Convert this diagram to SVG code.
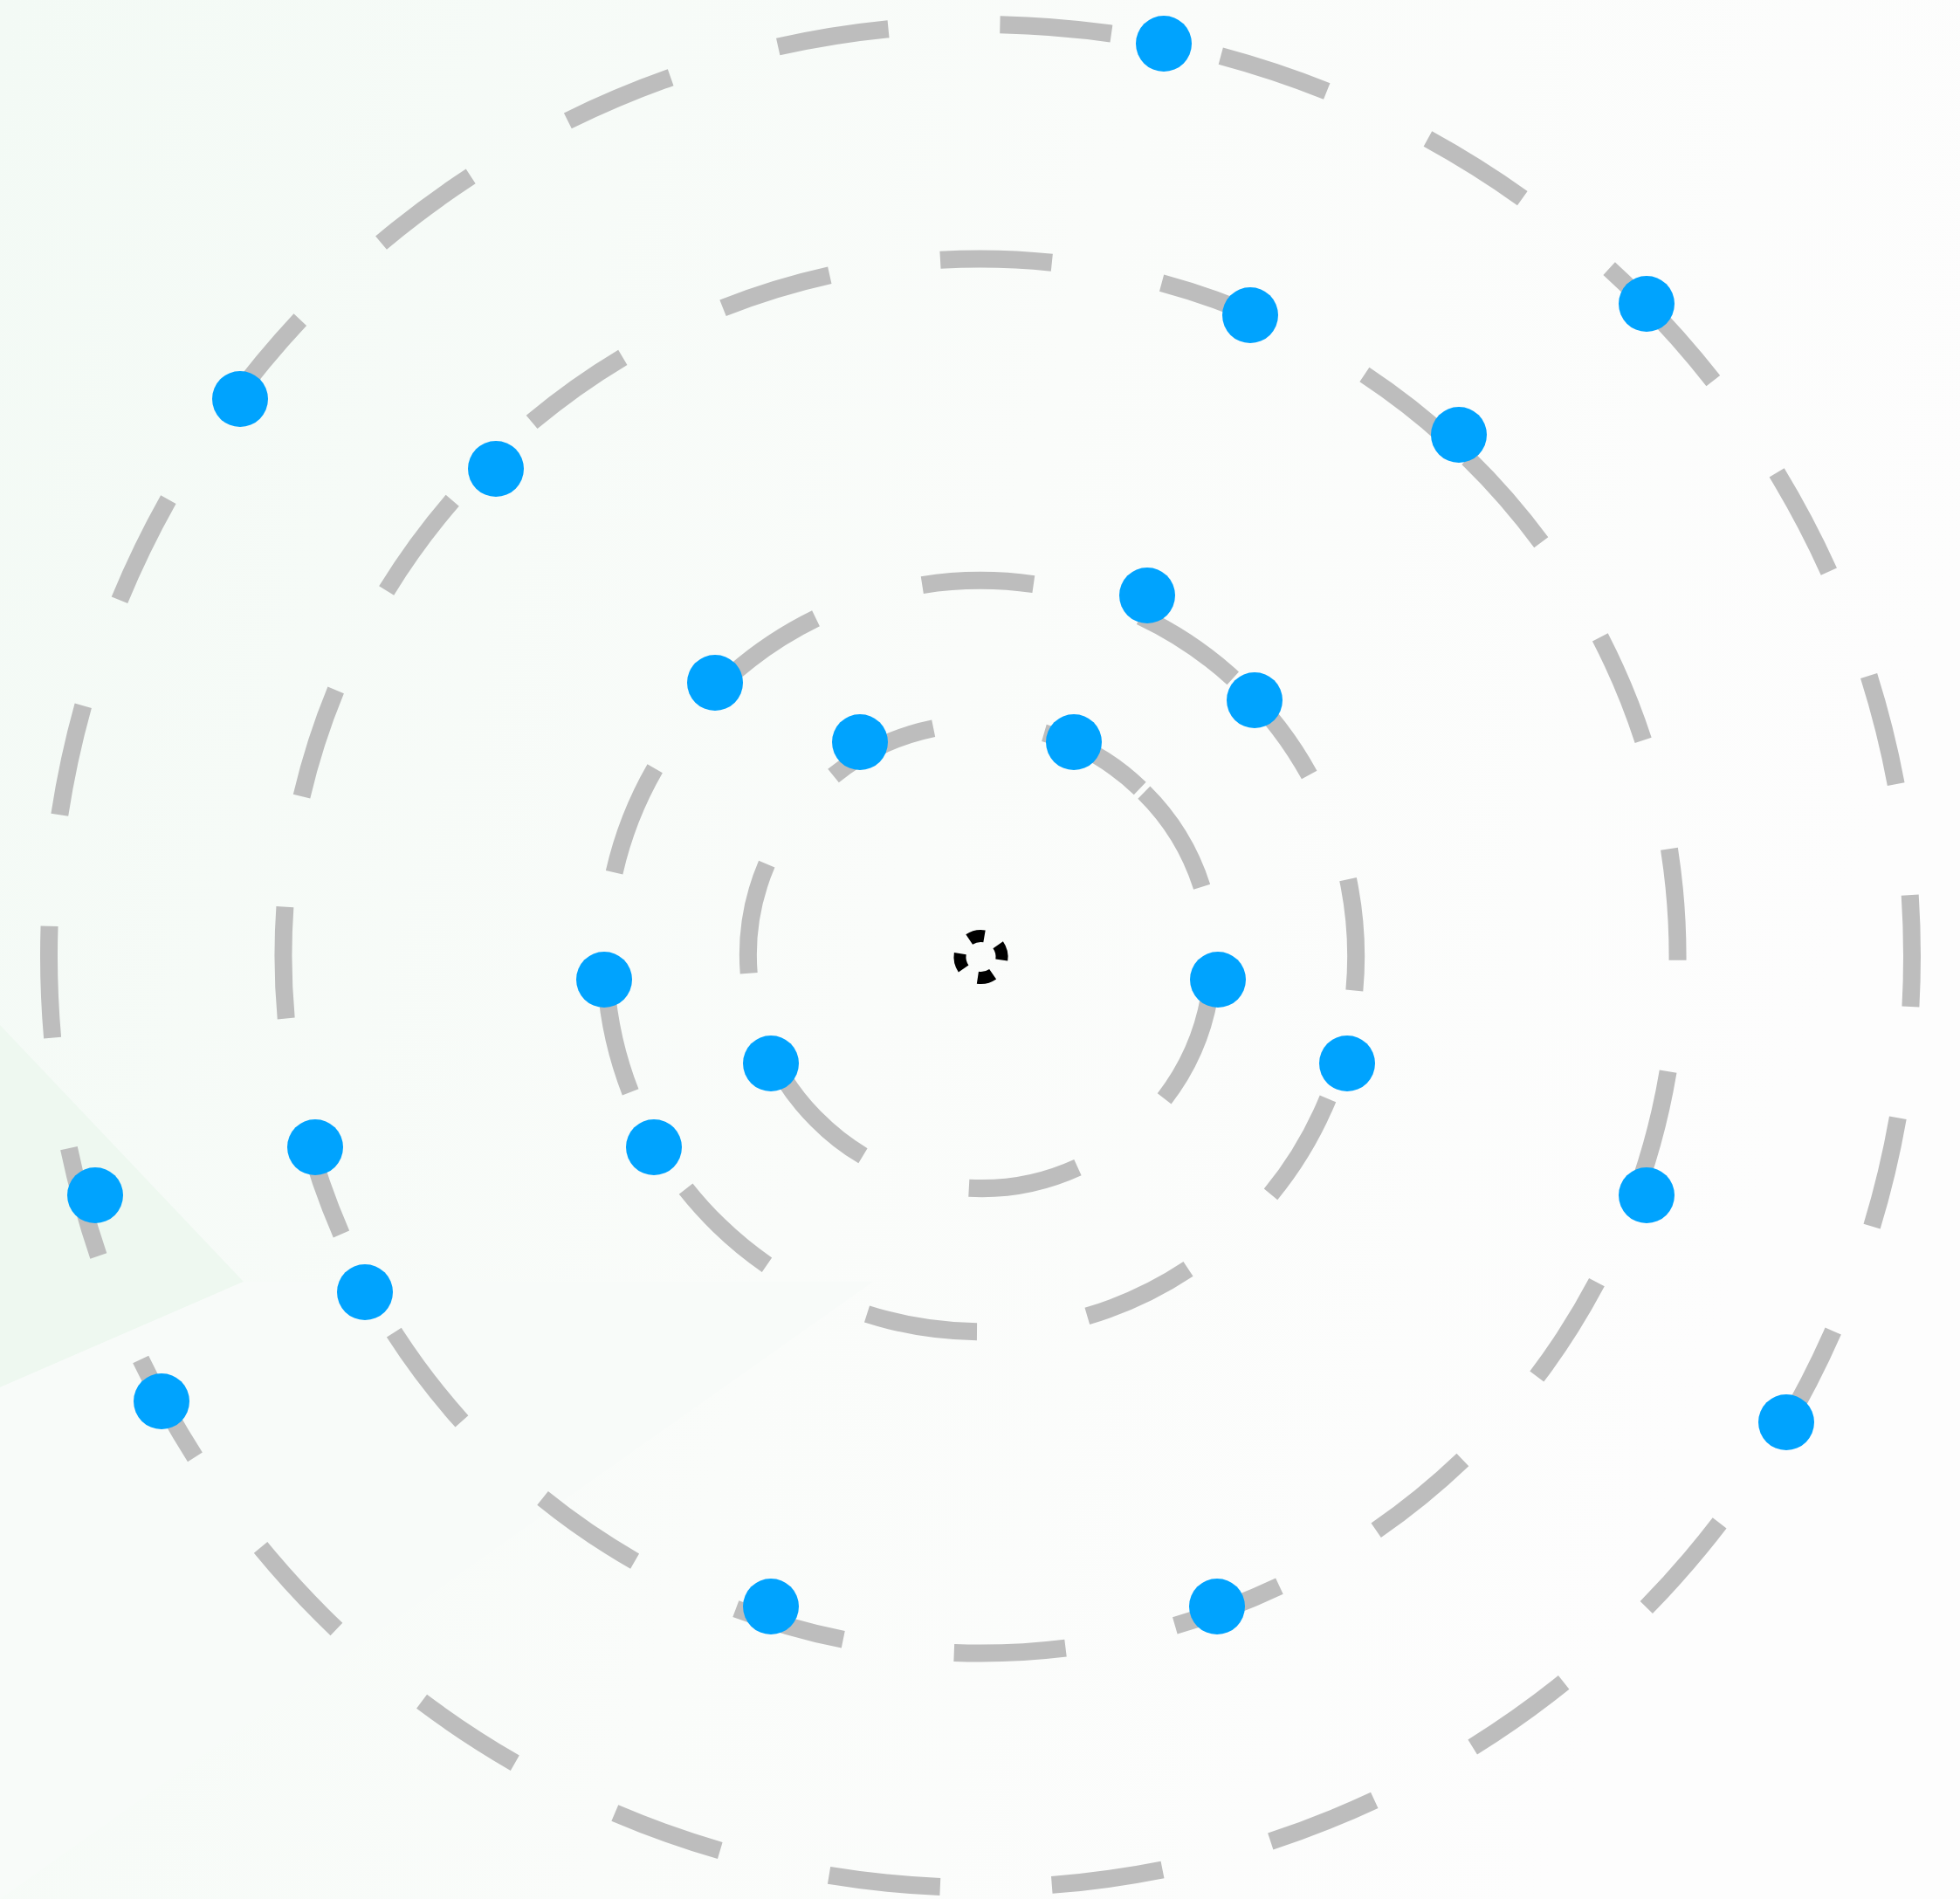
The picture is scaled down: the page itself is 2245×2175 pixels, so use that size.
<svg xmlns="http://www.w3.org/2000/svg" width="2245" height="2175" viewBox="0 0 2245 2175">
<defs>
<linearGradient id="bg" x1="0" y1="0" x2="1" y2="0.3">
<stop offset="0" stop-color="#f3faf5"/>
<stop offset="0.55" stop-color="#fafcfa"/>
<stop offset="1" stop-color="#fdfdfd"/>
</linearGradient>
<style>
.orbit{fill:none;stroke:#bdbdbd;stroke-width:20;stroke-dasharray:128 128;}
.core{fill:none;stroke:#000000;stroke-width:14;stroke-dasharray:18 19.7;}
.dot{fill:#00a3fe;}
</style>
</defs>
<rect width="2245" height="2175" fill="url(#bg)"/>
<polygon points="0,1174 279,1468 0,1589" fill="#eef8f0"/>
<polygon points="279,1468 1000,1468 0,2175 0,1589" fill="#f8fbf9"/>
<g id="connectors">
<path id="orbit5" class="orbit" d="M1877.49,340.51 A1067,1067 0 1 1 368.51,1849.49 A1067,1067 0 1 1 1877.49,340.51"/>
<path id="orbit4" class="orbit" d="M1681.33,524.85 A798,798 0 1 1 564.67,1665.15 A798,798 0 1 1 1681.33,524.85"/>
<path id="orbit3" class="orbit" d="M1422.24,786.20 A430,430 0 1 1 823.76,1403.80 A430,430 0 1 1 1422.24,786.20"/>
<path id="orbit2" class="orbit" d="M1310.38,907.62 A265,265 0 1 1 935.62,1282.38 A265,265 0 1 1 1310.38,907.62"/>
</g>
<g id="center"><path class="core" d="M1143.16,1082.23 A24,24 0 1 1 1103.84,1109.77 A24,24 0 1 1 1143.16,1082.23"/></g>
<g id="n1"><circle class="dot" cx="1333" cy="50" r="32"/></g>
<g id="n2"><circle class="dot" cx="1886" cy="348" r="32"/></g>
<g id="n3"><circle class="dot" cx="1432" cy="361" r="32"/></g>
<g id="n4"><circle class="dot" cx="1671" cy="498" r="32"/></g>
<g id="n5"><circle class="dot" cx="275" cy="457" r="32"/></g>
<g id="n6"><circle class="dot" cx="568" cy="537" r="32"/></g>
<g id="n7"><circle class="dot" cx="1314" cy="682" r="32"/></g>
<g id="n8"><circle class="dot" cx="1437" cy="802" r="32"/></g>
<g id="n9"><circle class="dot" cx="819" cy="782" r="32"/></g>
<g id="n10"><circle class="dot" cx="985" cy="850" r="32"/></g>
<g id="n11"><circle class="dot" cx="1230" cy="850" r="32"/></g>
<g id="n12"><circle class="dot" cx="692" cy="1122" r="32"/></g>
<g id="n13"><circle class="dot" cx="1395" cy="1122" r="32"/></g>
<g id="n14"><circle class="dot" cx="883" cy="1218" r="32"/></g>
<g id="n15"><circle class="dot" cx="1543" cy="1218" r="32"/></g>
<g id="n16"><circle class="dot" cx="361" cy="1314" r="32"/></g>
<g id="n17"><circle class="dot" cx="749" cy="1314" r="32"/></g>
<g id="n18"><circle class="dot" cx="109" cy="1369" r="32"/></g>
<g id="n19"><circle class="dot" cx="1886" cy="1369" r="32"/></g>
<g id="n20"><circle class="dot" cx="418" cy="1480" r="32"/></g>
<g id="n21"><circle class="dot" cx="185" cy="1605" r="32"/></g>
<g id="n22"><circle class="dot" cx="2046" cy="1629" r="32"/></g>
<g id="n23"><circle class="dot" cx="883" cy="1840" r="32"/></g>
<g id="n24"><circle class="dot" cx="1394" cy="1840" r="32"/></g>
</svg>
